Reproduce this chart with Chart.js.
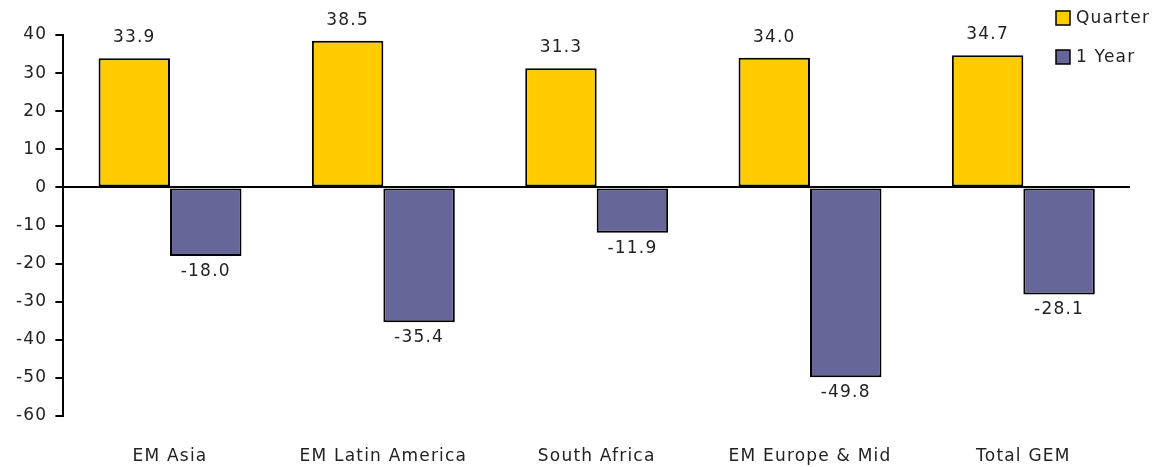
<!DOCTYPE html>
<html>
<head>
<meta charset="utf-8">
<script src="https://cdn.jsdelivr.net/npm/chart.js@4.4.0/dist/chart.umd.min.js"></script>
<style>
  html, body { margin: 0; padding: 0; background: #fff; }
  #wrap { width: 1163px; height: 467px; }
</style>
</head>
<body>
<div id="wrap"><canvas id="chart" width="1163" height="467"></canvas></div>
<script>
// categories and series
const regions = ['EM Asia', 'EM Latin America', 'South Africa', 'EM Europe & Mid', 'Total GEM'];
const quarterValues = [33.9, 38.5, 31.3, 34.0, 34.7];
const yearValues = [-18.0, -35.4, -11.9, -49.8, -28.1];
const yTicks = [40, 30, 20, 10, 0, -10, -20, -30, -40, -50, -60];

const FONT = '"DejaVu Sans", sans-serif';
const TEXT = '#222';
const SPACING = '1.2px';

// wider letters, closer to the original typeface
const spacing = {
    id: 'spacing',
    beforeLayout(chart) { chart.ctx.letterSpacing = SPACING; },
    beforeDraw(chart) { chart.ctx.letterSpacing = SPACING; }
};

// value labels above / below each bar
const barLabels = {
    id: 'barLabels',
    afterDatasetsDraw(chart) {
        const c = chart.ctx;
        c.save();
        c.font = '17px ' + FONT;
        c.fillStyle = TEXT;
        c.textAlign = 'center';
        chart.data.datasets.forEach((ds, i) => {
            chart.getDatasetMeta(i).data.forEach((bar, j) => {
                const v = ds.data[j];
                if (v >= 0) {
                    c.textBaseline = 'bottom';
                    c.fillText(v.toFixed(1), bar.x, bar.y - 12);
                } else {
                    c.textBaseline = 'top';
                    c.fillText(v.toFixed(1), bar.x, bar.y + 7);
                }
            });
        });
        c.restore();
    }
};

// legend in top right corner
const cornerLegend = {
    id: 'cornerLegend',
    afterDraw(chart) {
        const c = chart.ctx;
        c.save();
        c.font = '17px ' + FONT;
        c.textBaseline = 'middle';
        c.textAlign = 'left';
        chart.data.datasets.forEach((ds, i) => {
            const x = 1056, y = 18 + i * 39;
            c.fillStyle = ds.backgroundColor;
            c.fillRect(x, y - 7, 14, 14);
            c.strokeStyle = '#000';
            c.lineWidth = 1.5;
            c.strokeRect(x, y - 7, 14, 14);
            c.fillStyle = TEXT;
            c.fillText(ds.label, x + 20, y + 1);
        });
        c.restore();
    }
};

const ctx = document.getElementById('chart').getContext('2d');
new Chart(ctx, {
    type: 'bar',
    data: {
        labels: regions,
        datasets: [
            {
                label: 'Quarter',
                data: quarterValues,
                backgroundColor: '#FFCC00',
                borderColor: '#000',
                borderWidth: 2,
                borderSkipped: false
            },
            {
                label: '1 Year',
                data: yearValues,
                backgroundColor: '#666699',
                borderColor: '#000',
                borderWidth: 2,
                borderSkipped: false
            }
        ]
    },
    options: {
        responsive: false,
        animation: false,
        layout: { padding: { top: 35, right: 33, left: 8, bottom: 0 } },
        datasets: { bar: { categoryPercentage: 0.67, barPercentage: 1.0 } },
        plugins: { legend: { display: false }, tooltip: { enabled: false } },
        scales: {
            x: {
                grid: { display: false },
                border: { display: false },
                afterFit: axis => { axis.height = 51; },
                ticks: { color: TEXT, font: { family: FONT, size: 17 }, padding: 22, maxRotation: 0 }
            },
            y: {
                min: -60,
                max: 40,
                afterBuildTicks: axis => { axis.ticks = yTicks.map(v => ({ value: v })); },
                border: { display: true, color: '#000', width: 2 },
                grid: {
                    color: c => (c.tick && c.tick.value === 0 ? '#000' : 'rgba(0,0,0,0)'),
                    lineWidth: 2,
                    tickColor: '#000',
                    tickLength: 8,
                    drawTicks: true
                },
                ticks: { color: TEXT, font: { family: FONT, size: 17 }, padding: 8 }
            }
        }
    },
    plugins: [spacing, barLabels, cornerLegend]
});
</script>
</body>
</html>
